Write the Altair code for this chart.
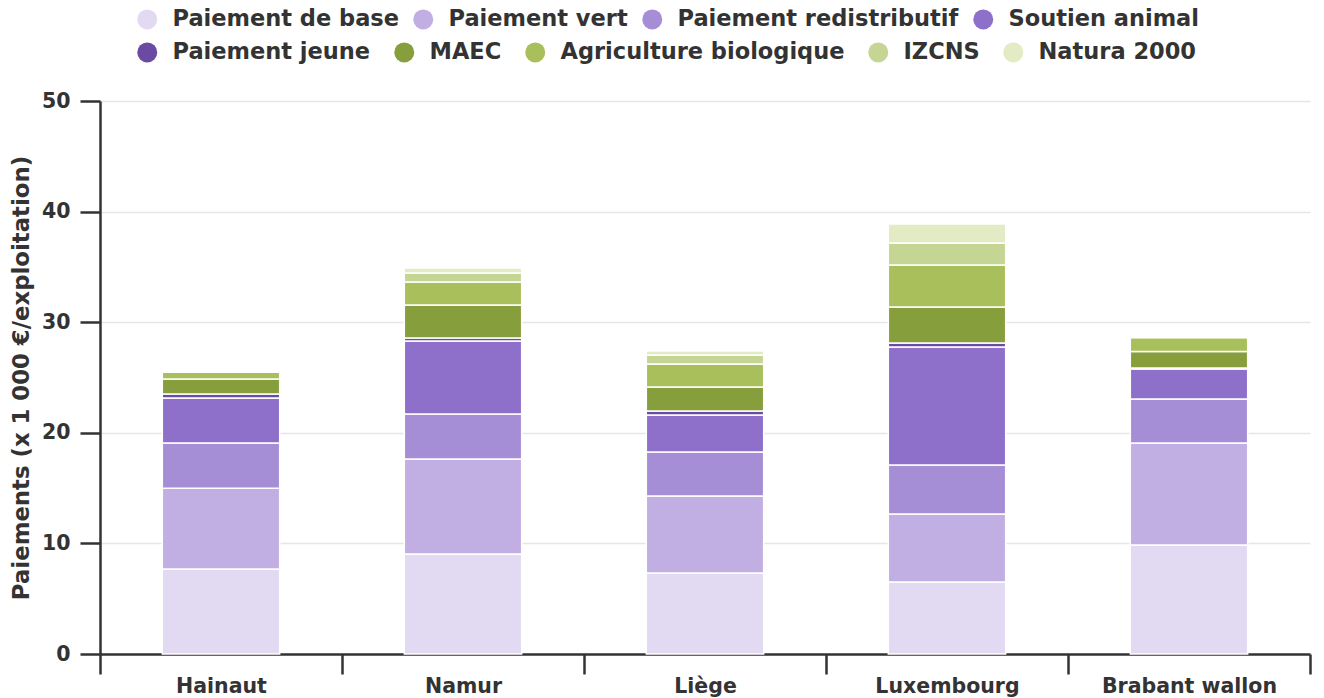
import altair as alt
import pandas as pd

regions = ["Hainaut", "Namur", "Liège", "Luxembourg", "Brabant wallon"]

series_a = ["Paiement de base", "Paiement vert", "Paiement redistributif", "Soutien animal"]
series_b = ["Paiement jeune", "MAEC", "Agriculture biologique", "IZCNS", "Natura 2000"]

colors_a = ["#e1daf2", "#c1afe3", "#a58ed6", "#8e70cb"]
colors_b = ["#6a4aa2", "#879e3c", "#a8bf5b", "#c5d593", "#e2ebc3"]

paiement_de_base = [7.69, 9.04, 7.32, 6.51, 9.86]
paiement_vert = [7.30, 8.59, 6.97, 6.15, 9.22]
paiement_redistributif = [4.08, 4.07, 3.97, 4.43, 3.98]
soutien_animal = [4.07, 6.60, 3.35, 10.67, 2.71]
paiement_jeune = [0.36, 0.27, 0.36, 0.36, 0.08]
maec = [1.36, 2.99, 2.17, 3.25, 1.50]
agriculture_biologique = [0.63, 2.07, 2.08, 3.80, 1.26]
izcns = [0.0, 0.82, 0.81, 1.99, 0.0]
natura_2000 = [0.0, 0.45, 0.37, 1.72, 0.0]

values_by_series = [
    paiement_de_base, paiement_vert, paiement_redistributif, soutien_animal,
    paiement_jeune, maec, agriculture_biologique, izcns, natura_2000,
]
all_series = series_a + series_b

rows = []
for k, (name, vals) in enumerate(zip(all_series, values_by_series)):
    grp = "A" if name in series_a else "B"
    for r, v in zip(regions, vals):
        rows.append({"region": r, "series": name, "value": v, "order": k, "group": grp})
df = pd.DataFrame(rows)

TXT = "#333333"

x_enc = alt.X(
    "region:N",
    sort=regions,
    scale=alt.Scale(paddingInner=0, paddingOuter=0),
    axis=alt.Axis(
        title=None, labelAngle=0, tickBand="extent", tickSize=20, tickWidth=2.5,
        tickColor=TXT, domainColor=TXT, domainWidth=2.5, labelPadding=2,
        labelFontSize=20.5, labelFontWeight="bold", labelColor=TXT, grid=False,
    ),
)
y_enc = alt.Y(
    "cum:Q",
    scale=alt.Scale(domain=[0, 50], nice=False),
    axis=alt.Axis(
        title="Paiements (x 1 000 €/exploitation)", titleFontSize=22.8,
        titleFontWeight="bold", titleColor=TXT, titlePadding=8,
        values=[0, 10, 20, 30, 40, 50], tickSize=20, tickWidth=2.5, tickColor=TXT,
        domainColor=TXT, domainWidth=2.5, labelPadding=10, labelFontSize=20.5,
        labelFontWeight="bold", labelColor=TXT, grid=True, gridColor="#e6e6e6",
        gridWidth=1.5,
    ),
)

base = (
    alt.Chart(df)
    .transform_window(
        cum="sum(value)", groupby=["region"], sort=[alt.SortField("order")], frame=[None, 0]
    )
    .transform_calculate(start="datum.cum - datum.value")
)


def legend(y, cols, colpad):
    return alt.Legend(
        title=None, orient="none", legendX=36, legendY=y, direction="horizontal",
        columns=cols, symbolType="circle", symbolSize=400, symbolStrokeWidth=0,
        symbolOpacity=1, labelFontSize=22.5, labelFontWeight="bold", labelColor=TXT,
        labelLimit=400, labelOffset=14, columnPadding=colpad, rowPadding=0,
    )


bar_style = dict(stroke="white", strokeWidth=1.5, opacity=1, width=alt.RelativeBandSize(0.485))

layer_a = (
    base.transform_filter(alt.datum.group == "A")
    .mark_bar(**bar_style)
    .encode(
        x=x_enc, y=y_enc, y2="start:Q",
        color=alt.Color("series:N", scale=alt.Scale(domain=series_a, range=colors_a),
                        legend=legend(-93, 4, 13)),
    )
)
layer_b = (
    base.transform_filter(alt.datum.group == "B")
    .mark_bar(**bar_style)
    .encode(
        x=x_enc, y=y_enc, y2="start:Q",
        color=alt.Color("series:N", scale=alt.Scale(domain=series_b, range=colors_b),
                        legend=legend(-60, 5, 22)),
    )
)

chart = (
    alt.layer(layer_a, layer_b)
    .resolve_scale(color="independent")
    .properties(width=1210, height=553,
                padding={"left": 2, "top": 0, "right": 0, "bottom": 0})
    .configure(font="DejaVu Sans")
    .configure_view(stroke=None)
)

chart.save("out.html", embed_options={"renderer": "svg", "actions": False})
